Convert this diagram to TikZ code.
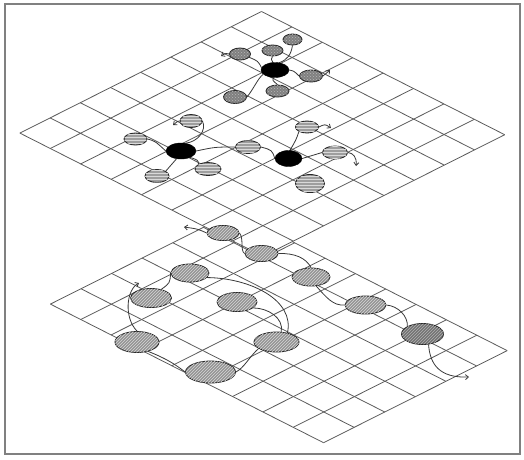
\documentclass[tikz,border=0pt]{standalone}
\usetikzlibrary{shapes.geometric,patterns,arrows.meta}
\pgfdeclarelayer{gridlayer}
\pgfdeclarelayer{linklayer}
\pgfsetlayers{gridlayer,linklayer,main}
\begin{document}
\begin{tikzpicture}[x=1pt,y=-1pt,
  gridline/.style={draw=black!64, line width=0.8pt},
  frame/.style={draw=black!50, line width=1.4pt},
  satbase/.style={ellipse, inner sep=0pt, draw=black!85, line width=0.85pt},
  satA/.style={satbase, fill=black!50, postaction={pattern=crosshatch dots, pattern color=black!28}},
  satB/.style={satbase, fill=black!38, postaction={pattern=horizontal lines, pattern color=black!15}},
  satC/.style={satbase, fill=black!42, postaction={pattern=north east lines, pattern color=black!16}},
  satD/.style={satbase, fill=black!55, postaction={pattern=north east lines, pattern color=black!30}},
  hub/.style={ellipse, inner sep=0pt, fill=black, draw=black},
  link/.style={draw=black!78, line width=0.8pt},
  walk/.style={link, -{Straight Barb[length=3pt,width=5pt]}},
]
\useasboundingbox (0,0) rectangle (524,459);

% ---------- grids ----------
\begin{pgfonlayer}{gridlayer}
\draw[frame] (5,4) rectangle (520,454);
% lower plane: origin (234,212), u=(30.35,15.4) x9, v=(-30.6,15.35) x6
\foreach \i in {0,...,9}
  \draw[gridline] ({234+30.35*\i},{212+15.4*\i}) -- ({234+30.35*\i-30.6*6},{212+15.4*\i+15.35*6});
\foreach \j in {0,...,6}
  \draw[gridline] ({234-30.6*\j},{212+15.35*\j}) -- ({234-30.6*\j+30.35*9},{212+15.35*\j+15.4*9});
% upper plane: origin (261.5,11.5), u=(30.4,15.4) x8, v=(-30.2,15.2) x8
\fill[white] (261.5,11.5) -- ({261.5+30.4*8},{11.5+15.4*8}) -- ({261.5+30.4*8-30.2*8},{11.5+15.4*8+15.2*8}) -- ({261.5-30.2*8},{11.5+15.2*8}) -- cycle;
\foreach \i in {0,...,8}
  \draw[gridline] ({261.5+30.4*\i},{11.5+15.4*\i}) -- ({261.5+30.4*\i-30.2*8},{11.5+15.4*\i+15.2*8});
\foreach \j in {0,...,8}
  \draw[gridline] ({261.5-30.2*\j},{11.5+15.2*\j}) -- ({261.5-30.2*\j+30.4*8},{11.5+15.2*\j+15.4*8});
\end{pgfonlayer}

% ---------- upper plane, upper cluster ----------
\node[hub, minimum width=28pt, minimum height=15pt] (hubU) at (275,70) {};
\node[satA, minimum width=21pt, minimum height=12pt] (u1) at (240,54) {};
\node[satA, minimum width=21pt, minimum height=11pt] (u2) at (272.5,50.5) {};
\node[satA, minimum width=19pt, minimum height=11pt] (u3) at (292.5,39.5) {};
\node[satA, minimum width=23pt, minimum height=12pt] (u4) at (311,76) {};
\node[satA, minimum width=23pt, minimum height=12pt] (u5) at (277.5,91) {};
\node[satA, minimum width=23pt, minimum height=13pt] (u6) at (235,97) {};
\coordinate (au1) at (221,56);
\coordinate (au4) at (330,70);

% ---------- upper plane, lower clusters ----------
\node[hub, minimum width=30pt, minimum height=16pt] (hubL) at (181,151) {};
\node[hub, minimum width=27pt, minimum height=16pt] (hubR) at (288.5,158.5) {};
\node[satB, minimum width=22pt, minimum height=13pt] (l1) at (191,121) {};
\node[satB, minimum width=23pt, minimum height=12pt] (l2) at (135.5,139) {};
\node[satB, minimum width=24pt, minimum height=13pt] (l3) at (157,176) {};
\node[satB, minimum width=26pt, minimum height=13pt] (l4) at (208,169) {};
\node[satB, minimum width=25pt, minimum height=13pt] (m) at (248,147) {};
\node[satB, minimum width=23pt, minimum height=12pt] (r1) at (307,127) {};
\node[satB, minimum width=25pt, minimum height=13pt] (r2) at (335,152.5) {};
\node[satB, minimum width=29pt, minimum height=18pt] (r3) at (310,183.5) {};
\coordinate (al1) at (173,125);
\coordinate (ar1) at (331,128);
\coordinate (ar2) at (356,166);

% ---------- lower plane ----------
\node[satC, minimum width=32pt, minimum height=15pt] (w1) at (223,233) {};
\node[satC, minimum width=33pt, minimum height=16pt] (w2) at (261.5,253.5) {};
\node[satC, minimum width=38pt, minimum height=18pt] (w3) at (311,277) {};
\node[satC, minimum width=41pt, minimum height=18pt] (w4) at (365.5,305) {};
\node[satD, minimum width=42pt, minimum height=21pt] (w5) at (422.5,334) {};
\node[satC, minimum width=38pt, minimum height=18pt] (w6) at (190,273) {};
\node[satC, minimum width=41pt, minimum height=19pt] (w7) at (151,298) {};
\node[satC, minimum width=40pt, minimum height=19pt] (w8) at (237,302) {};
\node[satC, minimum width=44pt, minimum height=21pt] (w9) at (137,342) {};
\node[satC, minimum width=45pt, minimum height=20pt] (w10) at (276.5,342) {};
\node[satC, minimum width=50pt, minimum height=22pt] (w11) at (210.5,372) {};
\coordinate (aw1) at (184,227);
\coordinate (aw5) at (469,377);
\coordinate (aw7) at (139,283);

\begin{pgfonlayer}{linklayer}
% upper cluster
\draw[link] (u1.-20) .. controls (258,61) .. (hubU.170);
\draw[walk] (u1.west) .. controls (226,53) .. (au1);
\draw[link] (u2.south) .. controls (271,59) .. (hubU.105);
\draw[link] (u3.south) .. controls (291,55) and (287,60) .. (hubU.60);
\draw[link] (hubU.east) .. controls (294,71) .. (u4.west);
\draw[walk] (u4.east) .. controls (326,74) .. (au4);
\draw[link] (hubU.-95) .. controls (272,80) .. (u5.north);
\draw[link] (hubU.200) .. controls (258,78) and (253,90) .. (u6.east);
% lower-left cluster
\draw[link] (l1.east) .. controls (207,130) and (198,142) .. (hubL.60);
\draw[walk] (l1.west) .. controls (178,121) .. (al1);
\draw[link] (l2.east) .. controls (155,141) .. (hubL.west);
\draw[link] (hubL.-120) .. controls (172,165) .. (l3.north east);
\draw[link] (hubL.-35) .. controls (198,160) .. (l4.north west);
\draw[link] (hubL.east) .. controls (215,147) .. (m.west);
\draw[link] (m.east) .. controls (272,150) .. (hubR.west);
% lower-right cluster
\draw[link] (r1.-150) .. controls (296,140) .. (hubR.80);
\draw[walk] (r1.east) .. controls (325,124) .. (ar1);
\draw[link] (hubR.east) .. controls (312,155) .. (r2.west);
\draw[walk] (r2.east) .. controls (353,153) and (357,157) .. (ar2);
% lower plane, right chain
\draw[walk] (w1.west) .. controls (198,229) .. (aw1);
\draw[link] (w1.east) .. controls (244,238) and (240,251) .. (w2.west);
\draw[link] (w2.east) .. controls (295,253) and (306,258) .. (w3.north);
\draw[link] (w3.-60) .. controls (326,297) and (333,306) .. (w4.west);
\draw[link] (w4.east) .. controls (398,306) and (408,316) .. (w5.north west);
\draw[walk] (w5.-60) .. controls (430,365) and (440,378) .. (aw5);
% lower plane, left loop
\draw[link] (w7.40) .. controls (170,283) .. (w6.west);
\draw[link] (w6.-15) .. controls (250,278) and (295,300) .. (w10.40);
\draw[link] (w8.-20) .. controls (268,308) and (284,318) .. (w10.65);
\draw[link] (w10.200) .. controls (250,356) and (244,368) .. (w11.east);
\draw[link] (w9.-40) .. controls (165,358) and (175,364) .. (w11.west);
\draw[walk] (w9.north) .. controls (124,318) and (126,290) .. (aw7);
\end{pgfonlayer}
\end{tikzpicture}
\end{document}
